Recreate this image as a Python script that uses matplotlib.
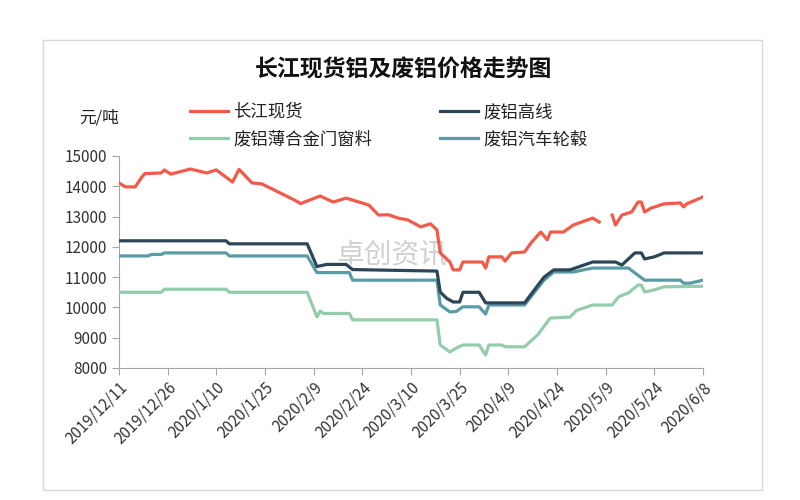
import matplotlib
matplotlib.use("Agg")
import matplotlib.pyplot as plt
import matplotlib.patches as patches
import numpy as np
import pandas as pd

plt.rcParams['font.family'] = ['Noto Sans CJK SC', 'DejaVu Sans']

# 长江现货 (None = no quote)
red_dates = ["2019-12-11", "2019-12-13", "2019-12-16", "2019-12-18", "2019-12-19", "2019-12-24",
             "2019-12-25", "2019-12-27", "2020-01-02", "2020-01-07", "2020-01-10", "2020-01-15",
             "2020-01-17", "2020-01-21", "2020-01-24", "2020-02-03", "2020-02-05", "2020-02-11",
             "2020-02-15", "2020-02-19", "2020-02-26", "2020-02-29", "2020-03-03", "2020-03-06",
             "2020-03-09", "2020-03-13", "2020-03-16", "2020-03-18", "2020-03-19", "2020-03-22",
             "2020-03-23", "2020-03-25", "2020-03-26", "2020-04-01", "2020-04-02", "2020-04-03",
             "2020-04-07", "2020-04-08", "2020-04-10", "2020-04-14", "2020-04-16", "2020-04-19",
             "2020-04-21", "2020-04-22", "2020-04-26", "2020-04-29", "2020-05-05", "2020-05-07",
             "2020-05-09", "2020-05-11", "2020-05-12", "2020-05-14", "2020-05-17", "2020-05-19",
             "2020-05-20", "2020-05-21", "2020-05-23", "2020-05-27", "2020-06-01", "2020-06-02",
             "2020-06-03", "2020-06-08"]
red_vals = [14110, 13980, 13980, 14300, 14420, 14440,
            14540, 14400, 14570, 14440, 14540, 14140,
            14560, 14110, 14080, 13550, 13430, 13680,
            13480, 13610, 13380, 13050, 13060, 12950,
            12890, 12660, 12760, 12560, 11800, 11500,
            11240, 11240, 11500, 11500, 11300, 11670,
            11670, 11530, 11800, 11830, 12130, 12490,
            12230, 12490, 12490, 12720, 12950, 12820,
            None, 13050, 12720, 13050, 13150, 13480,
            13480, 13150, 13280, 13420, 13450, 13320,
            13420, 13650]

# 废铝高线
navy_dates = ["2019-12-11", "2020-01-13", "2020-01-14", "2020-02-07", "2020-02-10", "2020-02-13",
              "2020-02-19", "2020-02-21", "2020-03-18", "2020-03-19", "2020-03-21", "2020-03-23",
              "2020-03-25", "2020-03-26", "2020-03-31", "2020-04-02", "2020-04-14", "2020-04-20",
              "2020-04-23", "2020-04-28", "2020-05-05", "2020-05-12", "2020-05-14", "2020-05-18",
              "2020-05-20", "2020-05-21", "2020-05-24", "2020-05-27", "2020-06-08"]
navy_vals = [12200, 12200, 12100, 12100, 11350, 11420,
             11420, 11250, 11200, 10510, 10300, 10180,
             10180, 10500, 10500, 10150, 10150, 11000,
             11240, 11240, 11500, 11500, 11400, 11800,
             11800, 11600, 11670, 11800, 11800]

# 废铝薄合金门窗料
green_dates = ["2019-12-11", "2019-12-24", "2019-12-25", "2020-01-13", "2020-01-14", "2020-02-07",
               "2020-02-10", "2020-02-11", "2020-02-12", "2020-02-20", "2020-02-21", "2020-03-18",
               "2020-03-19", "2020-03-22", "2020-03-24", "2020-03-26", "2020-03-31", "2020-04-02",
               "2020-04-03", "2020-04-07", "2020-04-08", "2020-04-14", "2020-04-18", "2020-04-21",
               "2020-04-22", "2020-04-28", "2020-04-30", "2020-05-05", "2020-05-11", "2020-05-13",
               "2020-05-16", "2020-05-19", "2020-05-20", "2020-05-21", "2020-05-24", "2020-05-27",
               "2020-06-08"]
green_vals = [10500, 10500, 10600, 10600, 10500, 10500,
              9690, 9880, 9800, 9800, 9590, 9590,
              8760, 8530, 8660, 8760, 8760, 8430,
              8760, 8760, 8700, 8700, 9090, 9520,
              9650, 9680, 9900, 10080, 10080, 10350,
              10480, 10740, 10740, 10510, 10580, 10680,
              10700]

# 废铝汽车轮毂
teal_dates = ["2019-12-11", "2019-12-20", "2019-12-21", "2019-12-24", "2019-12-25", "2020-01-13",
              "2020-01-14", "2020-02-07", "2020-02-10", "2020-02-20", "2020-02-21", "2020-03-18",
              "2020-03-19", "2020-03-22", "2020-03-24", "2020-03-26", "2020-03-31", "2020-04-02",
              "2020-04-03", "2020-04-14", "2020-04-20", "2020-04-23", "2020-04-29", "2020-05-05",
              "2020-05-16", "2020-05-18", "2020-05-21", "2020-06-01", "2020-06-02", "2020-06-04",
              "2020-06-08"]
teal_vals = [11700, 11700, 11750, 11750, 11800, 11800,
             11700, 11700, 11150, 11150, 10900, 10900,
             10080, 9850, 9870, 10020, 10020, 9780,
             10080, 10080, 10900, 11170, 11170, 11300,
             11300, 11140, 10900, 10900, 10800, 10800,
             10900]

tick_dates = pd.date_range("2019-12-11", "2020-06-08", freq="15D")
tick_labels = [f"{d.year}/{d.month}/{d.day}" for d in tick_dates]

fig = plt.figure(figsize=(8, 5), dpi=100)
ax = fig.add_axes([119/800, 1-368/500, (703-119)/800, (368-156)/500])

def tofloat(v):
    return np.array([np.nan if x is None else x for x in v], dtype=float)

l_red, = ax.plot(pd.to_datetime(red_dates), tofloat(red_vals), color='#f25a4a', lw=2.3,
                 label='长江现货', zorder=5)
l_navy, = ax.plot(pd.to_datetime(navy_dates), navy_vals, color='#2c4557', lw=2.3,
                  label='废铝高线', zorder=4)
l_teal, = ax.plot(pd.to_datetime(teal_dates), teal_vals, color='#5a9ca6', lw=2.3,
                  label='废铝汽车轮毂', zorder=3)
l_green, = ax.plot(pd.to_datetime(green_dates), green_vals, color='#93cdab', lw=2.3,
                   label='废铝薄合金门窗料', zorder=3)

ax.set_ylim(8000, 15000)
ax.set_yticks(range(8000, 15001, 1000))
ax.set_xlim(tick_dates[0], tick_dates[-1])
ax.set_xticks(tick_dates)
ax.set_xticklabels(tick_labels, rotation=45, ha='right', rotation_mode='anchor')
ax.tick_params(axis='both', colors='#a6a6a6', labelcolor='#333333', labelsize=11, length=5)
ax.tick_params(axis='x', pad=3)
for s in ['top', 'right']:
    ax.spines[s].set_visible(False)
for s in ['left', 'bottom']:
    ax.spines[s].set_color('#a6a6a6')

# faint source watermark
ax.text(392/800, 1-255/500, '卓创资讯', transform=fig.transFigure, fontsize=20,
        color='#d0d0d0', ha='center', va='center', zorder=1)

fig.text(404/800, 1-70/500, '长江现货铝及废铝价格走势图', fontsize=16.5, fontweight='bold',
         ha='center', va='center', color='#111111')
fig.text(99/800, 1-118/500, '元/吨', fontsize=12, ha='center', va='center', color='#222222')

fig.legend(handles=[l_red, l_green, l_navy, l_teal], ncol=2, loc='upper left',
           bbox_to_anchor=(190/800, 1-103/500), frameon=False, fontsize=12.5,
           handlelength=2.2, handletextpad=0.3, columnspacing=3.9, labelspacing=0.55,
           borderpad=0, borderaxespad=0, labelcolor='#222222')

fig.patches.append(patches.Rectangle((43/800, 10/500), (762-43)/800, (490-40)/500,
                                     transform=fig.transFigure, fill=False,
                                     edgecolor='#d9d9d9', lw=1))

fig.savefig('out.png', dpi=100)
